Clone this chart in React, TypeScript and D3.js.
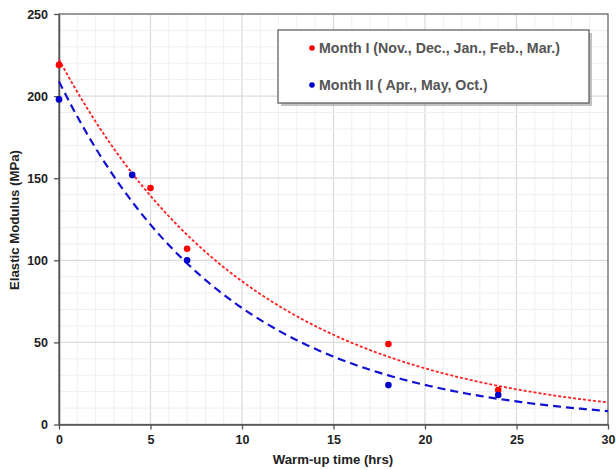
import * as d3 from "d3";
import React, { useEffect, useRef } from "react";

// warm-up time (hrs) and elastic modulus (MPa)
const month1Hours = [0, 5, 7, 18, 24];
const month1Modulus = [219, 144, 107, 49, 21];
const month2Hours = [0, 4, 7, 18, 24];
const month2Modulus = [198, 152, 100, 24, 18];

const seriesNames = [
  "Month I (Nov., Dec., Jan., Feb., Mar.)",
  "Month II ( Apr., May, Oct.)",
];
const xTicks = [0, 5, 10, 15, 20, 25, 30];
const yTicks = [0, 50, 100, 150, 200, 250];

// excel style exponential trendline: ln(y) = ln(a) + b*x
function expFit(xs: number[], ys: number[]) {
  const ls = ys.map((v) => Math.log(v));
  const mx = d3.mean(xs) as number;
  const ml = d3.mean(ls) as number;
  let sxy = 0;
  let sxx = 0;
  xs.forEach((x, i) => {
    sxy += (x - mx) * (ls[i] - ml);
    sxx += (x - mx) * (x - mx);
  });
  const b = sxy / sxx;
  const a = Math.exp(ml - b * mx);
  return (x: number) => a * Math.exp(b * x);
}

export default function App() {
  const svgRef = useRef(null);
  const width = 616;
  const height = 470;

  useEffect(() => {
    document.body.style.margin = "0";
    const svg = d3.select(svgRef.current);
    svg.selectAll("*").remove();

    const x = d3.scaleLinear().domain([0, 30]).range([59, 608]);
    const y = d3.scaleLinear().domain([0, 250]).range([424.5, 14]);

    const font = "'Liberation Sans', Arial, sans-serif";

    // minor grid
    const g = svg.append("g");
    g.selectAll("line.vx")
      .data(d3.range(1, 30))
      .enter()
      .append("line")
      .attr("x1", (d) => x(d))
      .attr("x2", (d) => x(d))
      .attr("y1", y(0))
      .attr("y2", y(250))
      .attr("stroke", (d) => (d % 5 === 0 ? "#dcdcdc" : "#efefef"))
      .attr("stroke-width", (d) => (d % 5 === 0 ? 1.3 : 1));
    g.selectAll("line.hy")
      .data(d3.range(10, 250, 10))
      .enter()
      .append("line")
      .attr("y1", (d) => y(d))
      .attr("y2", (d) => y(d))
      .attr("x1", x(0))
      .attr("x2", x(30))
      .attr("stroke", (d) => (d % 50 === 0 ? "#dcdcdc" : "#efefef"))
      .attr("stroke-width", (d) => (d % 50 === 0 ? 1.3 : 1));

    // frame
    svg
      .append("rect")
      .attr("x", x(0))
      .attr("y", y(250))
      .attr("width", x(30) - x(0))
      .attr("height", y(0) - y(250))
      .attr("fill", "none")
      .attr("stroke", "#666")
      .attr("stroke-width", 1.3);

    // axes
    const xAxis = svg
      .append("g")
      .attr("transform", `translate(0,${y(0)})`)
      .call(d3.axisBottom(x).tickValues(xTicks).tickSize(5).tickSizeOuter(0).tickPadding(6));
    const yAxis = svg
      .append("g")
      .attr("transform", `translate(${x(0)},0)`)
      .call(d3.axisLeft(y).tickValues(yTicks).tickSize(5).tickSizeOuter(0).tickPadding(6));
    [xAxis, yAxis].forEach((ax) => {
      ax.select(".domain").attr("stroke", "#555").attr("stroke-width", 1.5);
      ax.selectAll(".tick line").attr("stroke", "#555").attr("stroke-width", 1.3);
      ax.selectAll(".tick text")
        .attr("fill", "#222")
        .style("font-family", font)
        .style("font-weight", "bold")
        .style("font-size", "12.5px");
    });

    // trendlines
    const fits = [
      { f: expFit(month1Hours, month1Modulus), color: "#ff2020", dash: "3,2", w: 1.8 },
      { f: expFit(month2Hours, month2Modulus), color: "#1010d0", dash: "8,5", w: 2.2 },
    ];
    const line = d3
      .line<number>()
      .x((d) => x(d))
      .y((d) => y(0));
    fits.forEach((s) => {
      line.y((d) => y(s.f(d)));
      svg
        .append("path")
        .attr("d", line(d3.range(0, 30.01, 0.25)))
        .attr("fill", "none")
        .attr("stroke", s.color)
        .attr("stroke-width", s.w)
        .attr("stroke-dasharray", s.dash);
    });

    // points
    const pts = [
      { xs: month1Hours, ys: month1Modulus, color: "#ff0000" },
      { xs: month2Hours, ys: month2Modulus, color: "#0000cc" },
    ];
    pts.forEach((p) => {
      svg
        .append("g")
        .selectAll("circle")
        .data(p.xs)
        .enter()
        .append("circle")
        .attr("cx", (d) => x(d))
        .attr("cy", (d, i) => y(p.ys[i]))
        .attr("r", 3.3)
        .attr("fill", p.color);
    });

    // axis titles
    svg
      .append("text")
      .attr("x", 333)
      .attr("y", 464)
      .attr("text-anchor", "middle")
      .style("font-family", font)
      .style("font-weight", "bold")
      .style("font-size", "13.2px")
      .attr("fill", "#222")
      .text("Warm-up time (hrs)");
    svg
      .append("text")
      .attr("transform", "translate(19,220) rotate(-90)")
      .attr("text-anchor", "middle")
      .style("font-family", font)
      .style("font-weight", "bold")
      .style("font-size", "13.2px")
      .attr("fill", "#222")
      .text("Elastic Modulus (MPa)");

    // legend
    const lg = svg.append("g").attr("transform", "translate(278,30)");
    lg.append("rect")
      .attr("x", 3)
      .attr("y", 3)
      .attr("width", 311)
      .attr("height", 73)
      .attr("fill", "#999")
      .attr("opacity", 0.6);
    lg.append("rect")
      .attr("width", 311)
      .attr("height", 73)
      .attr("fill", "white")
      .attr("stroke", "#555")
      .attr("stroke-width", 1.2);
    const colors = ["#ff0000", "#0000cc"];
    seriesNames.forEach((name, i) => {
      const cy = 18 + i * 37;
      lg.append("circle").attr("cx", 34).attr("cy", cy).attr("r", 2.8).attr("fill", colors[i]);
      lg.append("text")
        .attr("x", 41)
        .attr("y", cy + 5)
        .style("font-family", font)
        .style("font-weight", "bold")
        .style("font-size", "14.2px")
        .attr("fill", "#555")
        .text(name);
    });
  }, []);

  return <svg width={width} height={height} ref={svgRef}></svg>;
}
